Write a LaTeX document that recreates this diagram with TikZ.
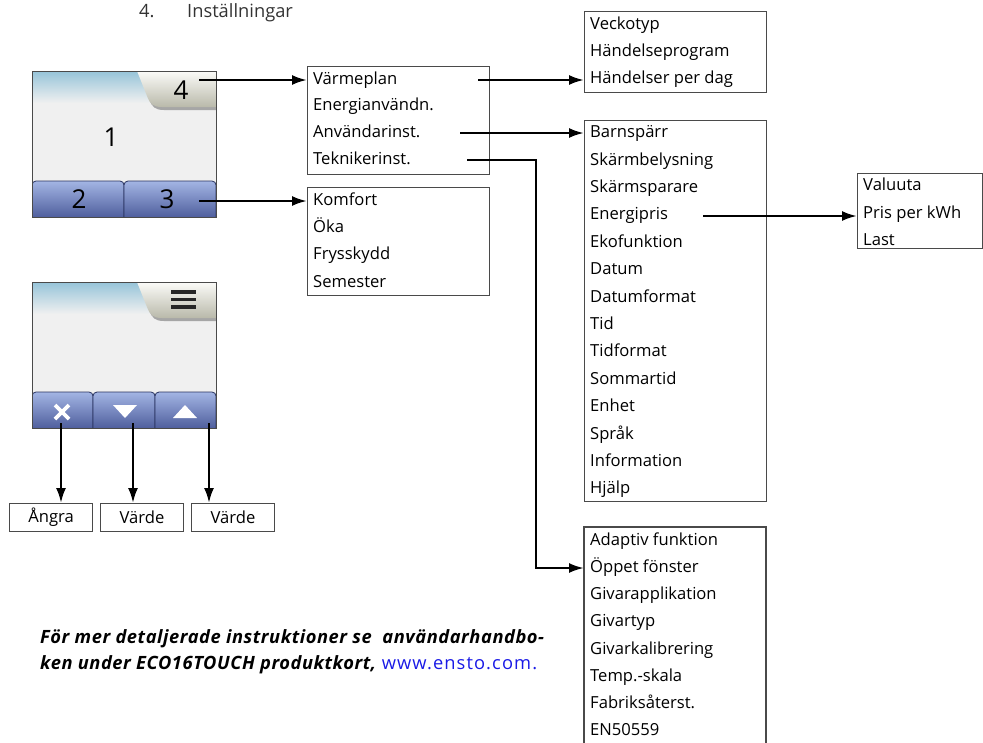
\documentclass[tikz,border=0pt]{standalone}
\usepackage{fontspec}
\setmainfont{Open Sans}
\usetikzlibrary{arrows.meta}
\definecolor{framegray}{HTML}{4A4A4A}
\definecolor{scrbg}{HTML}{F0F0F0}
\definecolor{skyblue}{HTML}{96C4D9}
\definecolor{tabtop}{HTML}{FBFBF8}
\definecolor{tabbot}{HTML}{B9B9AA}
\definecolor{btntop}{HTML}{A3B5E4}
\definecolor{btnbot}{HTML}{3D4C8E}
\definecolor{btnline}{HTML}{27315E}
\definecolor{linkblue}{HTML}{1A1AE6}
\definecolor{titlegray}{HTML}{333333}
\tikzset{
  listbox/.style={draw=framegray, line width=1.1pt, fill=white, anchor=north west,
    inner sep=0pt},
  item/.style={anchor=mid west, inner sep=0pt, yshift=-2pt,
    font=\fontsize{16.6}{19}\selectfont},
  arr/.style={line width=2.4pt, -{Latex[length=15pt,width=10pt]}},
  keytext/.style={font=\fontsize{26}{28}\selectfont},
  smallbox/.style={draw=framegray, line width=1.1pt, minimum width=83pt,
    minimum height=28pt, inner sep=0pt, anchor=north west,
    font=\fontsize{16.6}{19}\selectfont},
  btn/.style={top color=btntop, bottom color=btnbot, draw=btnline, line width=0.8pt,
    rounded corners=4pt},
  heading/.style={anchor=base west, inner sep=0pt, text=titlegray,
    font=\fontsize{18.3}{21}\selectfont},
  notetext/.style={anchor=base west, inner sep=0pt,
    font=\fontsize{18.3}{21}\selectfont\addfontfeature{LetterSpace=3}},
}
\begin{document}
\begin{tikzpicture}[x=1pt,y=-1pt]
\useasboundingbox (0,0) rectangle (983,742);

% heading
\node[heading] (hnum) at (139,17) {4.};
\node[heading] (htitle) at (187,17) {Inställningar};

% ---------- display 1 ----------
\begin{scope}
  \clip (32,71) rectangle (216,217);
  \fill[scrbg] (32,71) rectangle (216,217);
  \shade[top color=skyblue, bottom color=scrbg] (32,71) rectangle (216,103);
  % tab
  \fill[black!35] (139,73) -- (149,99) .. controls (152,107) and (155,110) .. (164,110) -- (218,110) -- (218,73) -- cycle;
  \shade[top color=tabtop, bottom color=tabbot]
    (137,71) -- (147,96) .. controls (150,104) and (153,107) .. (162,107) -- (216,107) -- (216,71) -- cycle;
  % soft keys
  \shade[btn] (32,181) rectangle (124,225);
  \shade[btn] (124,181) rectangle (216,225);
\end{scope}
\node[draw=framegray, line width=1.1pt, minimum width=184pt, minimum height=146pt,
  anchor=north west, inner sep=0pt] (scr1) at (32,71) {};
\node[keytext] (k1) at (111,137) {1};
\node[keytext] (k4) at (181,90) {4};
\node[keytext] (k2) at (79,199) {2};
\node[keytext] (k3) at (167,199) {3};

% ---------- display 2 ----------
\begin{scope}
  \clip (32,282) rectangle (216,428);
  \fill[scrbg] (32,282) rectangle (216,428);
  \shade[top color=skyblue, bottom color=scrbg] (32,282) rectangle (216,314);
  \fill[black!35] (139,284) -- (149,310) .. controls (152,318) and (155,321) .. (164,321) -- (218,321) -- (218,284) -- cycle;
  \shade[top color=tabtop, bottom color=tabbot]
    (137,282) -- (147,307) .. controls (150,315) and (153,318) .. (162,318) -- (216,318) -- (216,282) -- cycle;
  \shade[btn] (32,392) rectangle (93,436);
  \shade[btn] (93,392) rectangle (155,436);
  \shade[btn] (155,392) rectangle (216,436);
\end{scope}
\node[draw=framegray, line width=1.1pt, minimum width=184pt, minimum height=146pt,
  anchor=north west, inner sep=0pt] (scr2) at (32,282) {};
% menu icon
\foreach \yy in {292,299.5,307}
  \fill[black!85] (171,\yy-1.6) rectangle (196,\yy+1.6);
% cancel, down, up
\draw[white, line width=3.6pt] (55,405) -- (69,419) (55,419) -- (69,405);
\fill[white] (113,405) -- (137,405) -- (125,418) -- cycle;
\fill[white] (173,418) -- (197,418) -- (185,405) -- cycle;

% ---------- result boxes under display 2 ----------
\node[smallbox] (angra) at (9,503) {Ångra};
\node[smallbox] (varde1) at (100,503) {Värde};
\node[smallbox] (varde2) at (191,503) {Värde};
\coordinate (x1) at (61,423);
\coordinate (x2) at (133,423);
\coordinate (x3) at (209,423);
\draw[arr] (x1) -- (x1 |- angra.north);
\draw[arr] (x2) -- (x2 |- varde1.north);
\draw[arr] (x3) -- (x3 |- varde2.north);

% ---------- main menu ----------
\node[listbox, minimum width=182pt, minimum height=108pt] (mbox) at (307,66) {};
\node[item] (varme) at (313,80) {Värmeplan};
\node[item] (energi) at (313,106) {Energianvändn.};
\node[item] (anv) at (313,133) {Användarinst.};
\node[item] (tekn) at (313,160) {Teknikerinst.};

% ---------- mode menu ----------
\node[listbox, minimum width=182pt, minimum height=108pt] (kbox) at (307,187) {};
\node[item] (komf) at (313,201) {Komfort};
\node[item] (oka) at (313,228) {Öka};
\node[item] (frys) at (313,255) {Frysskydd};
\node[item] (sem) at (313,283) {Semester};

\coordinate (s4) at (199,80);
\coordinate (s3) at (199,201);
\draw[arr] (s4) -- (s4 -| mbox.west);
\draw[arr] (s3) -- (s3 -| kbox.west);

% ---------- week plan ----------
\node[listbox, minimum width=182pt, minimum height=81pt] (hbox) at (584,11) {};
\node[item] (vecko) at (590,25) {Veckotyp};
\node[item] (hprog) at (590,52) {Händelseprogram};
\node[item] (hdag) at (590,79) {Händelser per dag};
\coordinate (sv) at (478,80);
\draw[arr] (sv) -- (sv -| hbox.west);

% ---------- user settings ----------
\node[listbox, minimum width=182pt, minimum height=381pt] (ubox) at (584,120) {};
\foreach \t [count=\i from 0] in {Barnspärr,Skärmbelysning,Skärmsparare,Energipris,Ekofunktion,Datum,Datumformat,Tid,Tidformat,Sommartid,Enhet,Språk,Information,Hjälp}
  \node[item] (u\i) at (590,133+27.4*\i) {\t};
\coordinate (sa) at (460,133);
\draw[arr] (sa) -- (sa -| ubox.west);

% ---------- energy price ----------
\node[listbox, minimum width=125pt, minimum height=75pt] (pbox) at (857,173) {};
\node[item] (valuta) at (863,186) {Valuuta};
\node[item] (kwh) at (863,214) {Pris per kWh};
\node[item] (last) at (863,241) {Last};
\coordinate (se) at (703,216);
\draw[arr] (se) -- (se -| pbox.west);

% ---------- installer settings ----------
\fill[white] (584,527) rectangle (766,742);
\draw[framegray, line width=1.1pt] (584,745) -- (584,527) -- (766,527) -- (766,745);
\coordinate (tbox) at (584,568);
\foreach \t [count=\i from 0] in {Adaptiv funktion,Öppet fönster,Givarapplikation,Givartyp,Givarkalibrering,Temp.-skala,Fabriksåterst.,EN50559}
  \node[item] (t\i) at (590,541+27.1*\i) {\t};
\coordinate (st) at (467,160);
\draw[arr] (st) -| (536,568) -- (tbox);

% ---------- note ----------
\node[notetext] (note1) at (40,643)
  {\textbf{\textit{För mer detaljerade instruktioner se\ \ användarhandbo-}}};
\node[notetext] (note2) at (40,669)
  {\textbf{\textit{ken under ECO16TOUCH produktkort,}} \textcolor{linkblue}{\addfontfeature{LetterSpace=6}www.ensto.com.}};
\end{tikzpicture}
\end{document}
